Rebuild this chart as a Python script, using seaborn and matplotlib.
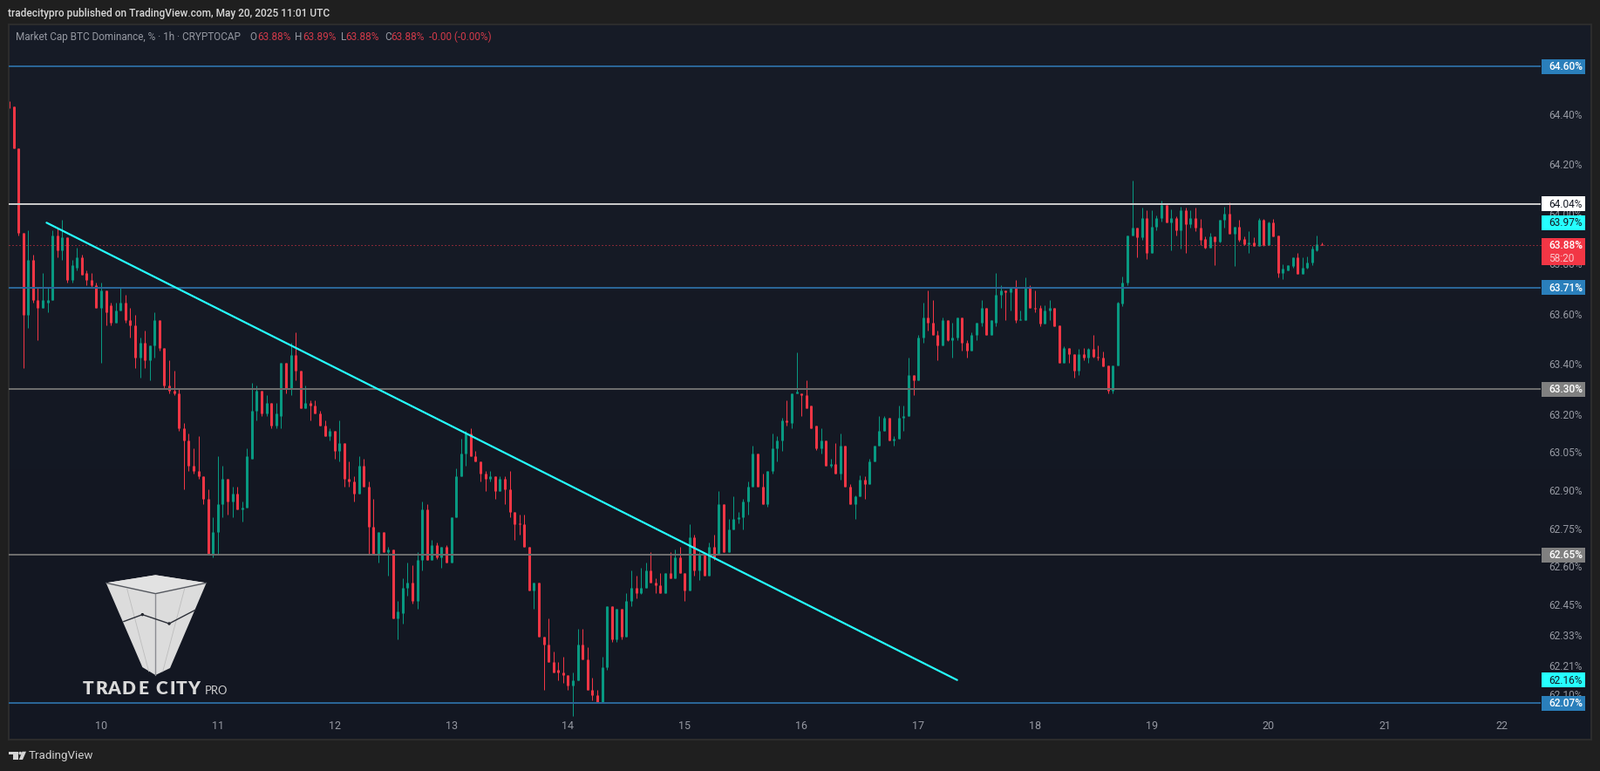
import matplotlib
matplotlib.use('Agg')
import matplotlib.pyplot as plt
import numpy as np
import pandas as pd
import seaborn as sns
from matplotlib.patches import Circle, Polygon, Rectangle
from matplotlib.ticker import NullLocator

W, H = 1835, 884
OUTPUT_FILE = 'out.png'

# hourly candles, first bar is May 9 05:00
opens = [
    64.46, 64.44, 64.27, 63.93, 63.60, 63.82, 63.66, 63.63, 63.65, 63.66,
    63.92, 63.86, 63.91, 63.74, 63.79, 63.83, 63.77, 63.74, 63.72, 63.63,
    63.70, 63.64, 63.57, 63.62, 63.65, 63.58, 63.56, 63.43, 63.49, 63.42,
    63.48, 63.58, 63.47, 63.32, 63.30, 63.29, 63.15, 63.10, 63.00, 62.98,
    62.96, 62.87, 62.65, 62.74, 62.85, 62.95, 62.86, 62.89, 62.83, 62.835,
    63.03, 63.22, 63.30, 63.21, 63.25, 63.16, 63.20, 63.41, 63.31, 63.44,
    63.38, 63.23, 63.25, 63.24, 63.21, 63.16, 63.12, 63.14, 63.06, 63.09,
    62.95, 62.94, 62.89, 63.00, 62.92, 62.76, 62.65, 62.74, 62.66, 62.67,
    62.40, 62.42, 62.52, 62.54, 62.47, 62.63, 62.83, 62.63, 62.69, 62.64,
    62.68, 62.62, 62.80, 62.96, 63.05, 63.13, 63.04, 63.02, 62.97, 62.95,
    62.96, 62.90, 62.95, 62.91, 62.82, 62.775, 62.77, 62.68, 62.51, 62.54,
    62.33, 62.30, 62.23, 62.20, 62.19, 62.18, 62.14, 62.16, 62.30, 62.24,
    62.12, 62.10, 62.07, 62.21, 62.45, 62.32, 62.44, 62.33, 62.47, 62.52,
    62.50, 62.52, 62.59, 62.54, 62.53, 62.50, 62.58, 62.56, 62.64, 62.58,
    62.51, 62.72, 62.59, 62.65, 62.57, 62.68, 62.65, 62.85, 62.66, 62.75,
    62.79, 62.80, 62.86, 62.92, 63.05, 62.92, 62.85, 62.98, 63.07, 63.10,
    63.18, 63.17, 63.29, 63.29, 63.28, 63.24, 63.16, 63.07, 63.10, 63.00,
    63.01, 62.97, 63.08, 62.92, 62.85, 62.88, 62.945, 62.93, 63.02, 63.08,
    63.14, 63.19, 63.10, 63.11, 63.19, 63.20, 63.36, 63.34, 63.51, 63.59,
    63.57, 63.52, 63.48, 63.58, 63.50, 63.51, 63.59, 63.49, 63.46, 63.52,
    63.57, 63.63, 63.52, 63.57, 63.68, 63.70, 63.69, 63.71, 63.58, 63.58,
    63.71, 63.63, 63.63, 63.565, 63.62, 63.63, 63.56, 63.41, 63.47, 63.445,
    63.38, 63.445, 63.43, 63.465, 63.435, 63.43, 63.40, 63.30, 63.40, 63.645,
    63.73, 63.92, 63.95, 63.91, 63.99, 63.85, 63.955, 63.99, 64.04, 63.97,
    63.99, 63.94, 64.02, 63.965, 63.99, 63.95, 63.905, 63.87, 63.915, 63.895,
    63.98, 64.005, 63.925, 63.955, 63.905, 63.885, 63.89, 63.875, 63.98, 63.88,
    63.97, 63.92, 63.77, 63.78, 63.795, 63.83, 63.765, 63.79, 63.81, 63.86, 63.885,
]
highs = [
    64.46, 64.44, 64.27, 63.93, 63.94, 63.84, 63.71, 63.77, 63.71, 63.94,
    63.95, 63.98, 63.91, 63.82, 63.87, 63.84, 63.78, 63.77, 63.73, 63.73,
    63.70, 63.65, 63.65, 63.71, 63.68, 63.63, 63.60, 63.51, 63.54, 63.48,
    63.61, 63.58, 63.47, 63.42, 63.38, 63.31, 63.17, 63.13, 63.07, 63.12,
    62.96, 62.91, 62.80, 63.04, 63.00, 62.95, 62.92, 62.92, 62.86, 63.07,
    63.33, 63.32, 63.30, 63.28, 63.25, 63.25, 63.41, 63.41, 63.49, 63.53,
    63.38, 63.32, 63.26, 63.26, 63.22, 63.18, 63.15, 63.14, 63.18, 63.09,
    63.02, 62.96, 63.04, 63.03, 62.94, 62.87, 62.74, 62.74, 62.68, 62.67,
    62.47, 62.56, 62.62, 62.61, 62.66, 62.86, 62.85, 62.71, 62.70, 62.68,
    62.69, 62.80, 62.99, 63.11, 63.14, 63.15, 63.06, 63.02, 62.98, 62.98,
    62.96, 62.96, 62.96, 62.98, 62.82, 62.81, 62.81, 62.68, 62.54, 62.54,
    62.33, 62.40, 62.27, 62.23, 62.25, 62.18, 62.19, 62.36, 62.36, 62.29,
    62.17, 62.12, 62.25, 62.45, 62.45, 62.44, 62.44, 62.50, 62.59, 62.57,
    62.60, 62.62, 62.66, 62.56, 62.58, 62.58, 62.66, 62.67, 62.68, 62.58,
    62.77, 62.73, 62.66, 62.65, 62.70, 62.73, 62.90, 62.85, 62.79, 62.88,
    62.82, 62.87, 62.94, 63.08, 63.05, 62.97, 62.98, 63.13, 63.12, 63.19,
    63.26, 63.29, 63.45, 63.29, 63.34, 63.24, 63.16, 63.15, 63.10, 63.03,
    63.09, 63.13, 63.08, 62.93, 62.885, 62.965, 62.96, 63.03, 63.08, 63.20,
    63.20, 63.19, 63.12, 63.24, 63.24, 63.43, 63.36, 63.52, 63.65, 63.70,
    63.66, 63.54, 63.59, 63.58, 63.57, 63.59, 63.59, 63.50, 63.53, 63.57,
    63.66, 63.63, 63.58, 63.77, 63.72, 63.70, 63.71, 63.74, 63.62, 63.75,
    63.72, 63.70, 63.64, 63.64, 63.66, 63.63, 63.56, 63.475, 63.47, 63.445,
    63.465, 63.47, 63.47, 63.52, 63.48, 63.455, 63.40, 63.40, 63.655, 63.755,
    63.92, 64.14, 63.95, 64.03, 64.02, 64.02, 64.00, 64.06, 64.04, 64.025,
    63.995, 64.035, 64.03, 64.02, 64.03, 63.985, 63.915, 63.93, 63.915, 63.98,
    64.035, 64.05, 63.955, 63.98, 63.915, 63.935, 63.91, 63.99, 63.985, 63.975,
    63.985, 63.92, 63.805, 63.80, 63.83, 63.85, 63.83, 63.835, 63.875, 63.92, 63.89,
]
lows = [
    64.39, 64.27, 63.92, 63.39, 63.55, 63.65, 63.50, 63.63, 63.61, 63.66,
    63.83, 63.82, 63.73, 63.73, 63.78, 63.76, 63.72, 63.71, 63.63, 63.41,
    63.56, 63.56, 63.57, 63.62, 63.57, 63.51, 63.39, 63.35, 63.39, 63.34,
    63.43, 63.46, 63.31, 63.29, 63.28, 63.14, 62.91, 62.98, 62.97, 62.95,
    62.85, 62.65, 62.64, 62.65, 62.80, 62.81, 62.80, 62.83, 62.78, 62.835,
    63.03, 63.18, 63.20, 63.20, 63.15, 63.15, 63.15, 63.29, 63.28, 63.34,
    63.23, 63.23, 63.18, 63.21, 63.16, 63.12, 63.10, 63.03, 63.02, 62.92,
    62.92, 62.86, 62.89, 62.92, 62.65, 62.65, 62.62, 62.66, 62.57, 62.40,
    62.32, 62.38, 62.49, 62.46, 62.44, 62.59, 62.63, 62.63, 62.635, 62.60,
    62.62, 62.62, 62.80, 62.96, 63.00, 63.04, 63.02, 62.94, 62.90, 62.94,
    62.87, 62.90, 62.85, 62.80, 62.71, 62.73, 62.68, 62.51, 62.44, 62.33,
    62.12, 62.23, 62.19, 62.16, 62.15, 62.12, 62.02, 62.16, 62.24, 62.12,
    62.08, 62.07, 62.07, 62.20, 62.31, 62.31, 62.32, 62.33, 62.45, 62.48,
    62.495, 62.52, 62.54, 62.50, 62.50, 62.50, 62.56, 62.56, 62.58, 62.47,
    62.51, 62.57, 62.55, 62.57, 62.57, 62.63, 62.65, 62.66, 62.66, 62.75,
    62.775, 62.75, 62.81, 62.92, 62.92, 62.85, 62.84, 62.97, 63.02, 63.06,
    63.16, 63.15, 63.29, 63.20, 63.23, 63.15, 63.065, 63.05, 63.00, 62.995,
    62.97, 62.945, 62.92, 62.85, 62.79, 62.88, 62.87, 62.93, 63.02, 63.08,
    63.14, 63.10, 63.08, 63.11, 63.14, 63.20, 63.28, 63.34, 63.49, 63.54,
    63.52, 63.42, 63.48, 63.495, 63.43, 63.50, 63.46, 63.43, 63.46, 63.50,
    63.555, 63.52, 63.52, 63.555, 63.63, 63.58, 63.62, 63.57, 63.58, 63.58,
    63.63, 63.61, 63.555, 63.565, 63.58, 63.555, 63.41, 63.41, 63.41, 63.35,
    63.36, 63.42, 63.41, 63.43, 63.42, 63.395, 63.29, 63.29, 63.40, 63.635,
    63.72, 63.92, 63.83, 63.90, 63.825, 63.85, 63.94, 63.975, 63.97, 63.86,
    63.92, 63.865, 63.85, 63.95, 63.935, 63.88, 63.865, 63.87, 63.80, 63.89,
    63.95, 63.925, 63.795, 63.895, 63.88, 63.85, 63.875, 63.875, 63.875, 63.88,
    63.915, 63.75, 63.745, 63.78, 63.79, 63.765, 63.765, 63.785, 63.80, 63.855, 63.88,
]
closes = [
    64.43, 64.27, 63.93, 63.60, 63.82, 63.66, 63.63, 63.66, 63.66, 63.92,
    63.86, 63.91, 63.74, 63.80, 63.83, 63.76, 63.74, 63.72, 63.63, 63.70,
    63.61, 63.57, 63.62, 63.65, 63.58, 63.56, 63.43, 63.49, 63.42, 63.48,
    63.58, 63.47, 63.32, 63.30, 63.29, 63.15, 63.10, 63.00, 62.98, 62.96,
    62.87, 62.65, 62.74, 62.85, 62.95, 62.86, 62.89, 62.83, 62.835, 63.04,
    63.22, 63.30, 63.21, 63.25, 63.16, 63.21, 63.41, 63.31, 63.44, 63.38,
    63.23, 63.25, 63.24, 63.21, 63.16, 63.12, 63.14, 63.06, 63.09, 62.95,
    62.94, 62.89, 63.00, 62.92, 62.76, 62.65, 62.74, 62.66, 62.67, 62.40,
    62.43, 62.52, 62.54, 62.47, 62.63, 62.83, 62.63, 62.69, 62.64, 62.68,
    62.62, 62.80, 62.96, 63.05, 63.13, 63.04, 63.02, 62.97, 62.95, 62.96,
    62.90, 62.95, 62.91, 62.82, 62.77, 62.77, 62.68, 62.51, 62.54, 62.33,
    62.30, 62.23, 62.19, 62.19, 62.18, 62.14, 62.16, 62.30, 62.24, 62.12,
    62.10, 62.07, 62.21, 62.45, 62.32, 62.44, 62.33, 62.47, 62.52, 62.50,
    62.52, 62.59, 62.54, 62.53, 62.50, 62.58, 62.56, 62.64, 62.58, 62.51,
    62.72, 62.59, 62.655, 62.57, 62.68, 62.64, 62.85, 62.66, 62.75, 62.79,
    62.80, 62.86, 62.92, 63.05, 62.92, 62.85, 62.98, 63.07, 63.10, 63.18,
    63.175, 63.29, 63.295, 63.28, 63.23, 63.15, 63.07, 63.10, 63.00, 63.01,
    62.97, 63.08, 62.92, 62.85, 62.88, 62.945, 62.93, 63.02, 63.08, 63.14,
    63.19, 63.10, 63.11, 63.19, 63.20, 63.36, 63.34, 63.51, 63.59, 63.57,
    63.52, 63.48, 63.58, 63.50, 63.51, 63.59, 63.49, 63.46, 63.52, 63.57,
    63.63, 63.52, 63.58, 63.68, 63.70, 63.69, 63.71, 63.58, 63.585, 63.71,
    63.63, 63.625, 63.565, 63.62, 63.63, 63.555, 63.41, 63.47, 63.445, 63.38,
    63.445, 63.43, 63.465, 63.435, 63.43, 63.395, 63.30, 63.40, 63.65, 63.73,
    63.92, 63.95, 63.91, 63.99, 63.85, 63.955, 63.99, 64.04, 63.97, 63.99,
    63.94, 64.02, 63.965, 63.99, 63.95, 63.90, 63.87, 63.915, 63.895, 63.98,
    64.005, 63.925, 63.955, 63.90, 63.885, 63.89, 63.875, 63.98, 63.88, 63.97,
    63.915, 63.77, 63.785, 63.80, 63.83, 63.765, 63.79, 63.81, 63.865, 63.885, 63.88,
]

# horizontal levels drawn on the chart and their price scale tags
blue_levels = [64.60, 63.71, 62.07]
gray_levels = [63.305, 62.65]
white_levels = [64.045]
last_price = 63.88

# trend line, bar numbers and prices of both ends
trend_bars = [7.78, 195.0]
trend_prices = [63.97, 62.16]

price_ticks = [64.40, 64.20, 64.00, 63.80, 63.60, 63.40, 63.20, 63.05, 62.90,
               62.75, 62.60, 62.45, 62.33, 62.21, 62.10]
day_labels = ['10', '11', '12', '13', '14', '15', '16', '17', '18', '19', '20', '21', '22']
day_bars = [19, 43, 67, 91, 115, 139, 163, 187, 211, 235, 259, 283, 307]

GREEN = '#089981'
RED = '#F23645'
BLUE_LINE = '#2a6596'
BLUE_TAG = '#2a7fbb'
GRAY_LINE = '#6c6c6c'
GRAY_TAG = '#808080'
WHITE_LINE = '#c8c8c8'
CYAN = '#26ffff'
DIM = '#9598a1'
FRAME = '#1f1f1f'
BORDER = '#2c2c2c'
CANDLE_COLORS = {'up': GREEN, 'down': RED}

sns.set_theme(style='dark', rc={
    'font.family': 'Roboto',
    'figure.facecolor': FRAME,
    'axes.grid': False,
})


def px(value):
    # pixels to points at dpi 100
    return value * 0.72


def draw_candle_part(ax, df, low_col, high_col, width):
    long_df = df.melt(id_vars=['bar', 'side'], value_vars=[low_col, high_col], value_name='price')
    sns.lineplot(data=long_df, x='bar', y='price', hue='side', units='bar', estimator=None,
                 palette=CANDLE_COLORS, linewidth=width, legend=False, ax=ax,
                 solid_capstyle='butt')


def add_tag(chrome, ax, value, label, bg, fg, weight='medium'):
    y = H - ax.transData.transform((0, value))[1]
    chrome.add_patch(Rectangle((1768, y - 8.5), 50, 17, fc=bg, ec='none'))
    chrome.text(1776, y + 0.5, label, color=fg, fontsize=8.6, fontweight=weight, ha='left', va='center')
    return y


def draw_logo(chrome):
    def to_px(points):
        return [(80 + x / 3, 640 + y / 3) for x, y in points]

    body = [(125, 85), (295, 58), (470, 85), (345, 378), (295, 402), (250, 375)]
    chrome.add_patch(Polygon(to_px(body), fc='#dcdcdc', ec='none'))
    chrome.add_patch(Polygon(to_px([(125, 85), (295, 58), (470, 85), (295, 122)]), fc='#e2e2e2', ec='none'))
    segments = [
        ([(125, 85), (295, 122), (470, 85)], '#55585f', 1.0),
        ([(295, 122), (295, 402)], '#8b8d92', 1.0),
        ([(197, 105), (272, 390)], '#bdbdbd', 0.6),
        ([(395, 105), (320, 390)], '#bdbdbd', 0.6),
        ([(185, 218), (250, 194), (342, 225), (432, 178)], '#2c2f38', 1.0),
    ]
    for pts, color, lw in segments:
        xs, ys = zip(*to_px(pts))
        chrome.plot(xs, ys, color=color, lw=lw)
    for dot in to_px([(250, 194), (342, 225)]):
        chrome.add_patch(Circle(dot, 1.7, fc='#14181f', ec='none'))
    letters = [('T', 63), ('R', 110), ('A', 152), ('D', 202), ('E', 252),
               ('C', 316), ('I', 354), ('T', 385), ('Y', 428)]
    for letter, x in letters:
        chrome.text(80 + x / 3, 790, letter, color='#dadada', fontsize=15, fontweight='black',
                    fontfamily='Lato', ha='center', va='center')
    chrome.text(235, 792.5, 'PRO', color='#d0d0d0', fontsize=9.4, fontfamily='Lato',
                ha='left', va='center')


def draw_chrome(chrome):
    chrome.text(9, 15.5, 'tradecitypro published on TradingView.com, May 20, 2025 11:01 UTC',
                color='#d9d9d9', fontsize=8.6, fontweight='medium', ha='left', va='center')

    legend_parts = [
        (18, 'Market Cap BTC Dominance, % · 1h · CRYPTOCAP', DIM),
        (286.5, 'O', DIM), (295, '63.88%', '#d13a49'),
        (338, 'H', DIM), (347, '63.89%', '#d13a49'),
        (390.5, 'L', DIM), (396.5, '63.88%', '#d13a49'),
        (441, 'C', DIM), (448, '63.88%', '#d13a49'),
        (492, '-0.00 (-0.00%)', '#d13a49'),
    ]
    for x, text, color in legend_parts:
        chrome.text(x, 42.5, text, color=color, fontsize=8.5, ha='left', va='center')

    # footer mark
    chrome.add_patch(Polygon([(10, 861.7), (20.6, 861.7), (20.6, 871), (15, 871), (15, 865), (10, 865)],
                             fc='#d4d4d4', ec='none'))
    chrome.add_patch(Circle((23.2, 863.6), 1.8, fc='#d4d4d4', ec='none'))
    chrome.add_patch(Polygon([(25.5, 861.7), (30, 861.7), (26, 871), (21.8, 871)], fc='#d4d4d4', ec='none'))
    chrome.text(33, 866.7, 'TradingView', color='#cfcfcf', fontsize=9.6, ha='left', va='center')


def main():
    candles = pd.DataFrame({'bar': np.arange(len(opens)), 'open': opens, 'high': highs,
                            'low': lows, 'close': closes})
    candles['side'] = np.where(candles['close'] >= candles['open'], 'up', 'down')

    fig = plt.figure(figsize=(W / 100, H / 100), dpi=100, facecolor=FRAME)
    pane = [10 / W, 1 - 848 / H, 1815 / W, 820 / H]

    # pane background fades slightly to the bottom
    bg_ax = fig.add_axes(pane, zorder=0)
    bg_ax.imshow(np.array([[0.0], [1.0]]), aspect='auto', interpolation='bilinear',
                 cmap=matplotlib.colors.LinearSegmentedColormap.from_list('pane', ['#161b26', '#131722']))
    bg_ax.axis('off')

    ax = fig.add_axes(pane, zorder=1)
    ax.patch.set_alpha(0)
    ax.set_yscale('log')
    ax.set_xlim(0, 1815 / 5.578)
    ax.set_ylim(61.928, 64.771)

    # wicks first, bodies on top
    draw_candle_part(ax, candles, 'low', 'high', px(1))
    candles['body_low'] = candles[['open', 'close']].min(axis=1)
    candles['body_high'] = candles[['open', 'close']].max(axis=1)
    draw_candle_part(ax, candles, 'body_low', 'body_high', px(3))

    line_end = (1767 - 10) / 5.578
    ax.hlines(blue_levels, 0, line_end, color=BLUE_LINE, lw=px(2), zorder=4)
    ax.hlines(gray_levels, 0, line_end, color=GRAY_LINE, lw=px(2), zorder=4)
    ax.hlines(white_levels, 0, line_end, color=WHITE_LINE, lw=px(2), zorder=4)
    ax.hlines(last_price, 0, line_end, color=RED, lw=px(1), linestyles=(0, (1, 3)), zorder=3)
    sns.lineplot(x=trend_bars, y=trend_prices, color=CYAN, linewidth=px(2.2), ax=ax, zorder=5)

    ax.set_xlabel('')
    ax.set_ylabel('')
    ax.set_axisbelow(True)
    ax.set_xticks(day_bars, day_labels)
    ax.tick_params(axis='x', length=0, pad=px(-22), labelcolor=DIM, labelsize=9)
    ax.yaxis.tick_right()
    ax.yaxis.set_minor_locator(NullLocator())
    ax.yaxis.set_minor_formatter(matplotlib.ticker.NullFormatter())
    ax.set_yticks(price_ticks, [f'{p:.2f}%' for p in price_ticks])
    ax.tick_params(axis='y', which='major', length=0, pad=px(-49), labelcolor=DIM, labelsize=8.6)
    for label in ax.get_yticklabels():
        label.set_va('center')
    for spine in ax.spines.values():
        spine.set_color(BORDER)
        spine.set_linewidth(px(2))

    # everything below is drawn in pixel coordinates
    chrome = fig.add_axes([0, 0, 1, 1], zorder=2)
    chrome.set_xlim(0, W)
    chrome.set_ylim(H, 0)
    chrome.axis('off')

    for value, label in zip(blue_levels, ['64.60%', '63.71%', '62.07%']):
        add_tag(chrome, ax, value, label, BLUE_TAG, 'white')
    for value, label in zip(gray_levels, ['63.30%', '62.65%']):
        add_tag(chrome, ax, value, label, GRAY_TAG, 'white')
    add_tag(chrome, ax, white_levels[0], '64.04%', 'white', '#131722', 'normal')
    add_tag(chrome, ax, trend_prices[0], '63.97%', CYAN, '#131722', 'normal')
    add_tag(chrome, ax, trend_prices[1], '62.16%', CYAN, '#131722', 'normal')

    last_y = H - ax.transData.transform((0, last_price))[1]
    chrome.add_patch(Rectangle((1768, last_y - 8.5), 50, 31, fc=RED, ec='none'))
    chrome.text(1776, last_y + 0.5, '63.88%', color='white', fontsize=8.6, fontweight='medium', ha='left', va='center')
    chrome.text(1776, last_y + 15, '58:20', color='#fbc5ca', fontsize=8.6, ha='left', va='center')

    draw_logo(chrome)
    draw_chrome(chrome)

    fig.savefig(OUTPUT_FILE, dpi=100, facecolor=FRAME)
    plt.close(fig)


if __name__ == '__main__':
    main()
